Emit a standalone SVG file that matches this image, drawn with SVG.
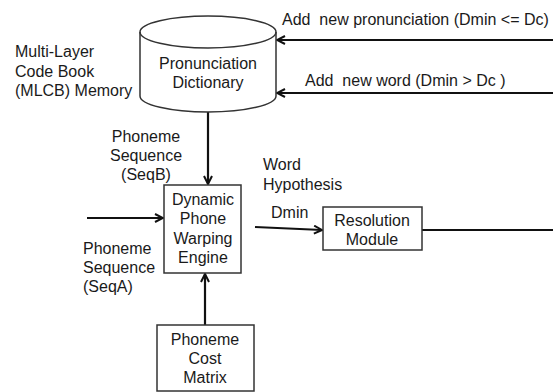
<svg xmlns="http://www.w3.org/2000/svg" width="553" height="392" viewBox="0 0 553 392">
<style>
text{font-family:"Liberation Sans",Arial,sans-serif;font-size:16px;fill:#1a1a1a;white-space:pre}
.m{text-anchor:middle}
.box{fill:#fff;stroke:#333;stroke-width:1.5}
.c{fill:none;stroke:#111;stroke-width:2.2}
</style>
<defs>
<marker id="a" viewBox="0 0 10 10" refX="9" refY="5" markerWidth="10" markerHeight="10" markerUnits="userSpaceOnUse" orient="auto">
<path d="M1,1 L9,5 L1,9" fill="none" stroke="#111" stroke-width="2"/>
</marker>
</defs>
<rect width="553" height="392" fill="#fff"/>
<g id="connectors">
<line class="c" x1="553" y1="40" x2="277" y2="40" marker-end="url(#a)"/>
<line class="c" x1="553" y1="93" x2="277" y2="93" marker-end="url(#a)"/>
<line class="c" x1="208" y1="112" x2="208" y2="184" marker-end="url(#a)"/>
<line class="c" x1="87" y1="218" x2="163" y2="218" marker-end="url(#a)"/>
<line class="c" x1="255" y1="227" x2="322" y2="230" marker-end="url(#a)"/>
<line class="c" x1="422" y1="230" x2="553" y2="230"/>
<line class="c" x1="205" y1="325" x2="205" y2="274" marker-end="url(#a)"/>
</g>
<g id="lbl">
<text x="282" y="25" xml:space="preserve">Add  new pronunciation (Dmin &lt;= Dc)</text>
<text x="305" y="86" xml:space="preserve">Add  new word (Dmin &gt; Dc )</text>
<text x="15" y="57">Multi-Layer</text>
<text x="15" y="77">Code Book</text>
<text x="15" y="96">(MLCB) Memory</text>
<text class="m" x="146" y="142">Phoneme</text>
<text class="m" x="146" y="161">Sequence</text>
<text class="m" x="146" y="180">(SeqB)</text>
<text x="83" y="254">Phoneme</text>
<text x="83" y="273">Sequence</text>
<text x="83" y="292">(SeqA)</text>
<text x="263" y="170">Word</text>
<text x="263" y="190">Hypothesis</text>
<text x="271" y="218">Dmin</text>
</g>
<g id="dict">
<path class="box" d="M140,32 L140,96 A68,16 0 0 0 276,96 L276,32 A68,16 0 0 0 140,32 Z"/>
<path d="M140,32 A68,16 0 0 0 276,32" fill="none" stroke="#333" stroke-width="1.5"/>
<text class="m" x="208" y="69">Pronunciation</text>
<text class="m" x="208" y="88">Dictionary</text>
</g>
<g id="dpw">
<rect class="box" x="164" y="185" width="77" height="88"/>
<text class="m" x="203" y="205">Dynamic</text>
<text class="m" x="203" y="224">Phone</text>
<text class="m" x="203" y="244">Warping</text>
<text class="m" x="203" y="263">Engine</text>
</g>
<g id="res">
<rect class="box" x="323" y="207" width="99" height="43"/>
<text class="m" x="372" y="226">Resolution</text>
<text class="m" x="372" y="245">Module</text>
</g>
<g id="cost">
<rect class="box" x="157" y="325" width="97" height="66"/>
<text class="m" x="205" y="345">Phoneme</text>
<text class="m" x="205" y="364">Cost</text>
<text class="m" x="205" y="383">Matrix</text>
</g>
</svg>
